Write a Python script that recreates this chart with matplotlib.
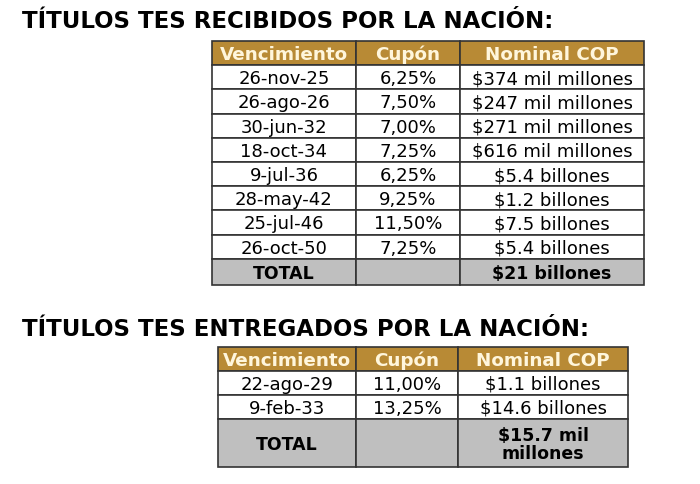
import matplotlib.pyplot as plt
from matplotlib.patches import Rectangle

title1 = "TÍTULOS TES RECIBIDOS POR LA NACIÓN:"
title2 = "TÍTULOS TES ENTREGADOS POR LA NACIÓN:"
headers = ["Vencimiento", "Cupón", "Nominal COP"]

recib_fechas = ["26-nov-25", "26-ago-26", "30-jun-32", "18-oct-34",
                "9-jul-36", "28-may-42", "25-jul-46", "26-oct-50"]
recib_cupon = ["6,25%", "7,50%", "7,00%", "7,25%", "6,25%", "9,25%", "11,50%", "7,25%"]
recib_nominal = ["$374 mil millones", "$247 mil millones", "$271 mil millones",
                 "$616 mil millones", "$5.4 billones", "$1.2 billones",
                 "$7.5 billones", "$5.4 billones"]
recib_total = ["TOTAL", "", "$21 billones"]

entreg_fechas = ["22-ago-29", "9-feb-33"]
entreg_cupon = ["11,00%", "13,25%"]
entreg_nominal = ["$1.1 billones", "$14.6 billones"]
entreg_total = ["TOTAL", "", "$15.7 mil\nmillones"]

HEAD = "#B88A35"
HEAD_TXT = "#FFF6DC"
GRAY = "#BFBFBF"


def draw_table(ax, xs, y0, row_h, rows, total, total_h):
    # header
    y = y0
    for i in range(3):
        ax.add_patch(Rectangle((xs[i], y), xs[i + 1] - xs[i], row_h,
                               facecolor=HEAD, edgecolor="#333333", lw=1.2))
        ax.text((xs[i] + xs[i + 1]) / 2, y + row_h / 2 + 1, headers[i], ha="center",
                va="center", fontsize=13.2, fontweight="bold", color=HEAD_TXT)
    y += row_h
    for row in rows:
        for i in range(3):
            ax.add_patch(Rectangle((xs[i], y), xs[i + 1] - xs[i], row_h,
                                   facecolor="white", edgecolor="#333333", lw=1.2))
            ax.text((xs[i] + xs[i + 1]) / 2, y + row_h / 2 + 1, row[i], ha="center",
                    va="center", fontsize=13, color="black")
        y += row_h
    for i in range(3):
        ax.add_patch(Rectangle((xs[i], y), xs[i + 1] - xs[i], total_h,
                               facecolor=GRAY, edgecolor="#333333", lw=1.2))
        ax.text((xs[i] + xs[i + 1]) / 2, y + total_h / 2 + 1, total[i], ha="center",
                va="center", fontsize=12.5, fontweight="bold", color="black",
                linespacing=1.0)


fig = plt.figure(figsize=(7, 4.85), dpi=100)
ax = fig.add_axes([0, 0, 1, 1])
ax.set_xlim(0, 700)
ax.set_ylim(485, 0)
ax.axis("off")

ax.text(22, 22, title1, fontsize=16.5, fontweight="bold", va="center", ha="left")
ax.text(22, 330, title2, fontsize=16.5, fontweight="bold", va="center", ha="left")

draw_table(ax, [212, 356, 460, 644], 42, 24.2,
           list(zip(recib_fechas, recib_cupon, recib_nominal)), recib_total, 26)
draw_table(ax, [218, 356, 458, 628], 348, 24,
           list(zip(entreg_fechas, entreg_cupon, entreg_nominal)), entreg_total, 48)

fig.savefig("out.png", dpi=100)
